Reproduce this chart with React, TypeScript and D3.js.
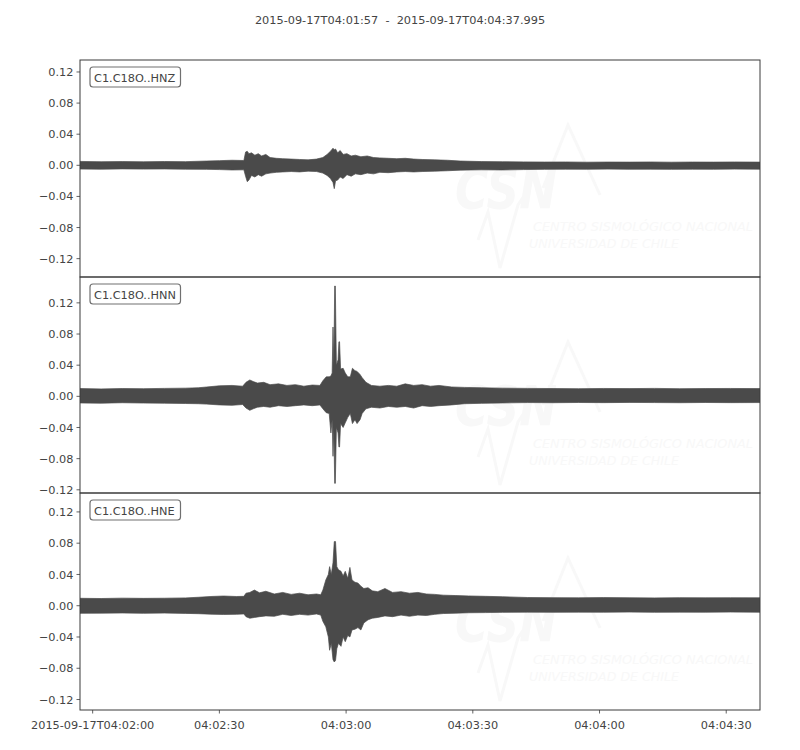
import React from 'react';
import * as d3 from 'd3';

// ---------- data ----------
const START_ISO = '2015-09-17T04:01:57Z';
const DURATION_S = 160.995;
const TITLE = '2015-09-17T04:01:57  -  2015-09-17T04:04:37.995';
const CHANNELS = ['C1.C18O..HNZ', 'C1.C18O..HNN', 'C1.C18O..HNE'];
const Y_TICKS = [0.12, 0.08, 0.04, 0, -0.04, -0.08, -0.12];
const X_TICK_SECONDS = [3, 33, 63, 93, 123, 153];
const Y_LIMITS: [number, number][] = [
  [-0.1436, 0.1354],
  [-0.1241, 0.1532],
  [-0.1334, 0.1442],
];

// envelope keyframes: [seconds after start, max, min]
const HNZ: [number, number, number][] = [
  [0, 0.0050, -0.0048], [5, 0.0046, -0.0050], [10, 0.0048, -0.0046], [15, 0.0045, -0.0049],
  [20, 0.0049, -0.0047], [25, 0.0047, -0.0050], [30, 0.0055, -0.0052], [33, 0.0060, -0.0055],
  [36, 0.0065, -0.0060], [38.8, 0.0062, -0.0058], [39.2, 0.0170, -0.0140], [39.6, 0.0180, -0.0210],
  [40.0, 0.0150, -0.0190], [40.6, 0.0160, -0.0130], [41.4, 0.0130, -0.0150], [42.2, 0.0150, -0.0120],
  [43.0, 0.0120, -0.0140], [44.0, 0.0140, -0.0110], [45.0, 0.0100, -0.0100], [46.5, 0.0090, -0.0090],
  [48, 0.0085, -0.0085], [50, 0.0080, -0.0080], [52, 0.0075, -0.0085], [54, 0.0070, -0.0075],
  [56, 0.0080, -0.0080], [57.5, 0.0100, -0.0100], [58.5, 0.0140, -0.0130], [59.3, 0.0180, -0.0170],
  [59.9, 0.0220, -0.0220], [60.2, 0.0200, -0.0300], [60.5, 0.0210, -0.0200], [61.0, 0.0160, -0.0190],
  [61.6, 0.0190, -0.0150], [62.3, 0.0140, -0.0170], [63.2, 0.0150, -0.0120], [64.2, 0.0120, -0.0140],
  [65.2, 0.0130, -0.0110], [66.5, 0.0110, -0.0120], [68, 0.0120, -0.0100], [69.5, 0.0100, -0.0110],
  [71, 0.0095, -0.0090], [73, 0.0090, -0.0095], [75, 0.0085, -0.0085], [77, 0.0090, -0.0080],
  [79, 0.0080, -0.0085], [81, 0.0075, -0.0080], [84, 0.0070, -0.0075], [87, 0.0065, -0.0070],
  [90, 0.0055, -0.0062], [95, 0.0048, -0.0058], [100, 0.0046, -0.0060], [105, 0.0044, -0.0055],
  [110, 0.0042, -0.0052], [115, 0.0043, -0.0050], [120, 0.0040, -0.0051], [125, 0.0042, -0.0049],
  [130, 0.0041, -0.0051], [135, 0.0043, -0.0050], [140, 0.0040, -0.0052], [145, 0.0042, -0.0050],
  [150, 0.0041, -0.0051], [155, 0.0043, -0.0049], [161, 0.0041, -0.0050],
];

const HNN: [number, number, number][] = [
  [0, 0.0100, -0.0085], [5, 0.0095, -0.0088], [10, 0.0100, -0.0082], [15, 0.0098, -0.0086],
  [20, 0.0102, -0.0088], [25, 0.0105, -0.0092], [28, 0.0110, -0.0095], [30, 0.0120, -0.0100],
  [33, 0.0135, -0.0110], [36, 0.0140, -0.0115], [38.5, 0.0130, -0.0105], [39.3, 0.0180, -0.0150],
  [40.2, 0.0210, -0.0180], [41.0, 0.0190, -0.0160], [42.0, 0.0170, -0.0140], [43.5, 0.0180, -0.0130],
  [45, 0.0150, -0.0140], [47, 0.0160, -0.0120], [49, 0.0140, -0.0130], [51, 0.0150, -0.0120],
  [53, 0.0130, -0.0110], [55, 0.0145, -0.0120], [56.8, 0.0140, -0.0110], [57.5, 0.0200, -0.0160],
  [58.3, 0.0250, -0.0210], [59.0, 0.0250, -0.0220], [59.4, 0.0260, -0.0470], [59.7, 0.0300, -0.0300],
  [59.9, 0.0890, -0.0770], [60.1, 0.0400, -0.0400], [60.3, 0.1416, -0.1117], [60.45, 0.1416, -0.1117],
  [60.7, 0.0400, -0.0400], [61.1, 0.0470, -0.0470], [61.3, 0.0700, -0.0650], [61.45, 0.0700, -0.0650],
  [61.7, 0.0350, -0.0350], [62.3, 0.0360, -0.0400], [62.8, 0.0300, -0.0340], [63.4, 0.0250, -0.0270],
  [64.0, 0.0250, -0.0220], [64.5, 0.0360, -0.0350], [65.1, 0.0330, -0.0300], [65.6, 0.0320, -0.0350],
  [66.3, 0.0280, -0.0300], [66.8, 0.0240, -0.0220], [67.7, 0.0180, -0.0160], [69, 0.0140, -0.0140],
  [71, 0.0130, -0.0150], [73, 0.0140, -0.0130], [75, 0.0130, -0.0140], [77, 0.0160, -0.0130],
  [79, 0.0140, -0.0150], [81, 0.0150, -0.0120], [83, 0.0130, -0.0130], [85, 0.0140, -0.0120],
  [88, 0.0120, -0.0110], [91, 0.0115, -0.0095], [95, 0.0110, -0.0090], [100, 0.0105, -0.0085],
  [106, 0.0102, -0.0080], [112, 0.0100, -0.0082], [118, 0.0098, -0.0079], [124, 0.0101, -0.0081],
  [130, 0.0099, -0.0078], [136, 0.0102, -0.0080], [142, 0.0098, -0.0082], [148, 0.0100, -0.0079],
  [154, 0.0101, -0.0081], [161, 0.0099, -0.0080],
];

const HNE: [number, number, number][] = [
  [0, 0.0095, -0.0097], [5, 0.0092, -0.0095], [10, 0.0097, -0.0093], [15, 0.0094, -0.0097],
  [20, 0.0096, -0.0094], [25, 0.0100, -0.0098], [28, 0.0108, -0.0102], [31, 0.0118, -0.0108],
  [34, 0.0124, -0.0112], [37, 0.0118, -0.0110], [38.8, 0.0120, -0.0105], [39.3, 0.0160, -0.0140],
  [40.2, 0.0170, -0.0160], [41.3, 0.0200, -0.0150], [42.5, 0.0165, -0.0140], [44, 0.0185, -0.0130],
  [46, 0.0150, -0.0135], [48, 0.0170, -0.0110], [50, 0.0145, -0.0125], [52, 0.0160, -0.0110],
  [54, 0.0140, -0.0120], [56, 0.0150, -0.0105], [57.0, 0.0140, -0.0120], [57.5, 0.0200, -0.0200],
  [58.2, 0.0330, -0.0270], [58.8, 0.0400, -0.0400], [59.1, 0.0500, -0.0570], [59.5, 0.0400, -0.0480],
  [59.9, 0.0550, -0.0690], [60.2, 0.0820, -0.0720], [60.5, 0.0820, -0.0700], [60.8, 0.0500, -0.0550],
  [61.2, 0.0460, -0.0480], [61.8, 0.0440, -0.0520], [62.3, 0.0380, -0.0400], [62.8, 0.0440, -0.0460],
  [63.4, 0.0350, -0.0380], [63.9, 0.0490, -0.0400], [64.4, 0.0330, -0.0310], [65.1, 0.0300, -0.0300],
  [65.8, 0.0290, -0.0280], [66.5, 0.0250, -0.0310], [67.2, 0.0220, -0.0220], [68.2, 0.0230, -0.0180],
  [69.2, 0.0190, -0.0160], [70.5, 0.0180, -0.0150], [72.2, 0.0220, -0.0130], [74, 0.0170, -0.0140],
  [76, 0.0180, -0.0120], [78, 0.0160, -0.0135], [80, 0.0170, -0.0120], [82, 0.0150, -0.0125],
  [84, 0.0145, -0.0110], [86, 0.0135, -0.0100], [89, 0.0130, -0.0095], [92, 0.0125, -0.0090],
  [96, 0.0120, -0.0088], [100, 0.0115, -0.0085], [106, 0.0105, -0.0082], [112, 0.0103, -0.0084],
  [118, 0.0101, -0.0082], [124, 0.0104, -0.0083], [130, 0.0102, -0.0081], [136, 0.0100, -0.0084],
  [142, 0.0103, -0.0082], [148, 0.0101, -0.0083], [154, 0.0102, -0.0081], [161, 0.0101, -0.0083],
];

const TRACES = [HNZ, HNN, HNE];

// ---------- layout ----------
const W = 800;
const H = 750;
const LEFT = 80;
const RIGHT = 760;
const PANEL_TOPS = [60, 277, 493];
const PANEL_BOTTOMS = [277, 493, 710];
const FONT = '"DejaVu Sans", sans-serif';
const TEXT_COLOR = '#444444';
const AXIS_COLOR = '#3a3a3a';
const TRACE_COLOR = '#4a4a4a';
const WATERMARK = '#f8f8f8';

const start = new Date(START_ISO);
const end = new Date(start.getTime() + DURATION_S * 1000);
const x = d3.scaleUtc().domain([start, end]).range([LEFT, RIGHT]);
const tsec = (s: number) => new Date(start.getTime() + s * 1000);
const fullFmt = d3.utcFormat('%Y-%m-%dT%H:%M:%S');
const shortFmt = d3.utcFormat('%H:%M:%S');
const yFmt = d3.format('.2f');

function Watermark({ dy }: { dy: number }) {
  return (
    <g transform={`translate(0,${dy})`} fill={WATERMARK} stroke="none">
      <text x={455} y={208} fontFamily={FONT} fontWeight="bold" fontStyle="italic" fontSize={56}
        textLength={102} lengthAdjust="spacingAndGlyphs">CSN</text>
      <polyline points="543,188 568,125 600,195" fill="none" stroke={WATERMARK} strokeWidth={3} />
      <polyline points="478,240 488,212 500,268 518,205 528,190" fill="none" stroke={WATERMARK} strokeWidth={3} />
      <text x={533} y={231} fontFamily={FONT} fontStyle="italic" fontSize={13}
        textLength={220} lengthAdjust="spacingAndGlyphs">CENTRO SISMOLÓGICO NACIONAL</text>
      <text x={529} y={248} fontFamily={FONT} fontStyle="italic" fontSize={13}
        textLength={150} lengthAdjust="spacingAndGlyphs">UNIVERSIDAD DE CHILE</text>
    </g>
  );
}

function Panel({ i }: { i: number }) {
  const top = PANEL_TOPS[i];
  const bottom = PANEL_BOTTOMS[i];
  const y = d3.scaleLinear().domain(Y_LIMITS[i]).range([bottom, top]);
  const area = d3
    .area<[number, number, number]>()
    .x((d) => x(tsec(d[0])))
    .y0((d) => y(d[2]))
    .y1((d) => y(d[1]))
    .curve(d3.curveLinear);
  const clipId = `clip-${i}`;
  const isLast = i === PANEL_TOPS.length - 1;
  return (
    <g>
      <defs>
        <clipPath id={clipId}>
          <rect x={LEFT} y={top} width={RIGHT - LEFT} height={bottom - top} />
        </clipPath>
      </defs>
      <Watermark dy={top - 60} />
      <g clipPath={`url(#${clipId})`}>
        <path d={area(TRACES[i]) || ''} fill={TRACE_COLOR} stroke={TRACE_COLOR} strokeWidth={0.7} strokeLinejoin="round" />
      </g>
      <rect x={LEFT} y={top} width={RIGHT - LEFT} height={bottom - top} fill="none" stroke={AXIS_COLOR} strokeWidth={1} />
      {Y_TICKS.map((v) => (
        <g key={v}>
          <line x1={LEFT - 3.5} x2={LEFT} y1={y(v)} y2={y(v)} stroke={AXIS_COLOR} strokeWidth={0.8} />
          <text x={LEFT - 6.5} y={y(v)} dy="0.36em" textAnchor="end" fontFamily={FONT} fontSize={11.3} fill={TEXT_COLOR}>
            {yFmt(v)}
          </text>
        </g>
      ))}
      <rect x={90} y={top + 7} width={90.5} height={20} rx={3} ry={3} fill="white" stroke="#707070" strokeWidth={1.2} />
      <text x={94} y={top + 21.5} fontFamily={FONT} fontSize={11.3} fill={TEXT_COLOR}>{CHANNELS[i]}</text>
      {isLast &&
        X_TICK_SECONDS.map((s, k) => (
          <g key={s}>
            <line x1={x(tsec(s))} x2={x(tsec(s))} y1={bottom} y2={bottom + 3.5} stroke={AXIS_COLOR} strokeWidth={0.8} />
            <text x={x(tsec(s))} y={bottom + 18.5} textAnchor="middle" fontFamily={FONT} fontSize={11.3} fill={TEXT_COLOR}>
              {k === 0 ? fullFmt(tsec(s)) : shortFmt(tsec(s))}
            </text>
          </g>
        ))}
    </g>
  );
}

export default function App() {
  return (
    <svg width={W} height={H} style={{ position: 'absolute', left: 0, top: 0, background: 'white' }}>
      <rect x={0} y={0} width={W} height={H} fill="white" />
      <text x={400} y={24} textAnchor="middle" fontFamily={FONT} fontSize={11.3} fill={TEXT_COLOR} style={{ whiteSpace: 'pre' }}>
        {TITLE}
      </text>
      {PANEL_TOPS.map((_, i) => (
        <Panel key={i} i={i} />
      ))}
    </svg>
  );
}
